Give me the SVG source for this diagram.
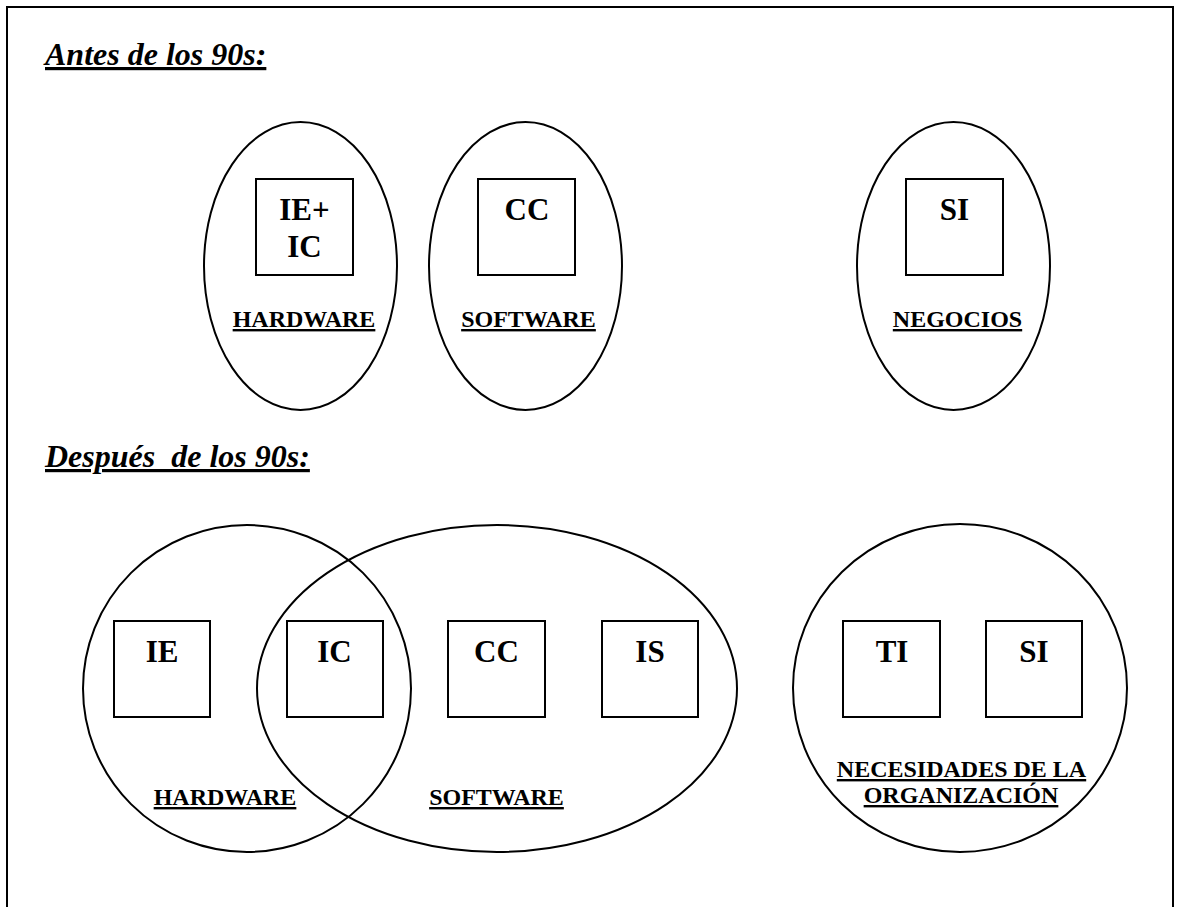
<svg xmlns="http://www.w3.org/2000/svg" width="1178" height="907" viewBox="0 0 1178 907">
<style>
.shape{fill:none;stroke:#000;stroke-width:2}
.box{fill:#fff;stroke:#000;stroke-width:2}
.title{font-family:"Liberation Serif","Times New Roman",serif;font-size:32px;font-weight:bold;font-style:italic;text-decoration:underline;white-space:pre}
.code{font-family:"Liberation Serif","Times New Roman",serif;font-size:31px;font-weight:bold;text-anchor:middle}
.lbl{font-family:"Liberation Serif","Times New Roman",serif;font-size:24px;font-weight:bold;text-anchor:middle;text-decoration:underline}
</style>
<rect x="0" y="0" width="1178" height="907" fill="#fff"/>
<path class="shape" d="M7,920 V7 H1173 V920"/>
<text class="title" x="45" y="65">Antes de los 90s:</text>
<text class="title" x="45" y="467" xml:space="preserve">Después  de los 90s:</text>

<g id="hardware-antes">
<ellipse class="shape" cx="300.5" cy="266" rx="96.5" ry="144"/>
<text class="lbl" x="304" y="327">HARDWARE</text>
</g>
<g id="box-ieic">
<rect class="box" x="256" y="179" width="97" height="96"/>
<text class="code" x="304.5" y="220">IE+</text>
<text class="code" x="304.5" y="257">IC</text>
</g>
<g id="software-antes">
<ellipse class="shape" cx="525.5" cy="266" rx="96.5" ry="144"/>
<text class="lbl" x="528.5" y="327">SOFTWARE</text>
</g>
<g id="box-cc-antes">
<rect class="box" x="478" y="179" width="97" height="96"/>
<text class="code" x="527" y="220">CC</text>
</g>
<g id="negocios">
<ellipse class="shape" cx="953.5" cy="266" rx="96.5" ry="144"/>
<text class="lbl" x="957.5" y="327">NEGOCIOS</text>
</g>
<g id="box-si-antes">
<rect class="box" x="906" y="179" width="97" height="96"/>
<text class="code" x="954.5" y="220">SI</text>
</g>

<g id="hardware-despues">
<ellipse class="shape" cx="247" cy="688.5" rx="164" ry="163.5"/>
<text class="lbl" x="225" y="805">HARDWARE</text>
</g>
<g id="software-despues">
<ellipse class="shape" cx="497" cy="688.5" rx="240" ry="163.5"/>
<text class="lbl" x="496.5" y="805">SOFTWARE</text>
</g>
<g id="box-ie">
<rect class="shape" x="114" y="621" width="96" height="96"/>
<text class="code" x="162" y="662">IE</text>
</g>
<g id="box-ic">
<rect class="shape" x="287" y="621" width="96" height="96"/>
<text class="code" x="334.5" y="662">IC</text>
</g>
<g id="box-cc">
<rect class="shape" x="448" y="621" width="97" height="96"/>
<text class="code" x="496.5" y="662">CC</text>
</g>
<g id="box-is">
<rect class="shape" x="602" y="621" width="96" height="96"/>
<text class="code" x="650" y="662">IS</text>
</g>
<g id="organizacion">
<ellipse class="shape" cx="960" cy="688" rx="167" ry="164"/>
<text class="lbl" x="961.5" y="777">NECESIDADES DE LA</text>
<text class="lbl" x="961" y="803">ORGANIZACIÓN</text>
</g>
<g id="box-ti">
<rect class="shape" x="843" y="621" width="97" height="96"/>
<text class="code" x="892" y="662">TI</text>
</g>
<g id="box-si">
<rect class="shape" x="986" y="621" width="96" height="96"/>
<text class="code" x="1034" y="662">SI</text>
</g>
<g id="connectors"/>
</svg>
